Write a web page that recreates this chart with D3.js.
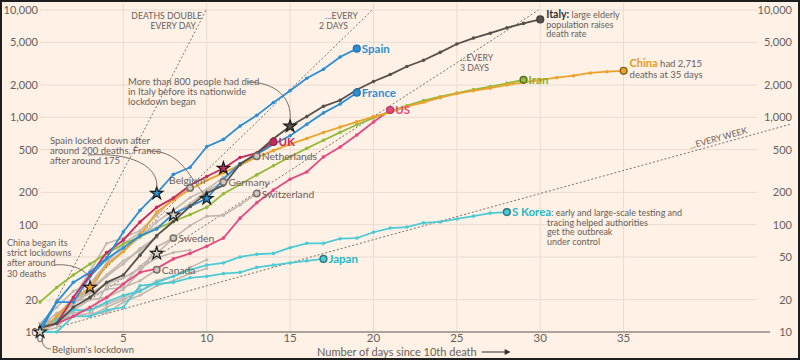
<!DOCTYPE html>
<html><head><meta charset="utf-8">
<script src="https://cdn.jsdelivr.net/npm/d3@7"></script>
<style>
html,body{margin:0;padding:0;background:#fff1e5;}
svg{display:block;font-family:Lato,"Noto Sans",sans-serif;}
</style></head>
<body><svg id="c" width="800" height="360"></svg>
<script>
// ---------- data ----------
const xTicks = [0,5,10,15,20,25,30,35];
const yTicks = [10,20,50,100,200,500,1000,2000,5000,10000];
const yTickLabels = ["10","20","50","100","200","500","1,000","2,000","5,000","10,000"];
const yTicksLeft = [10,20,100,200,500,1000,2000,5000,10000]; // "50" hidden behind the China note

const italy   = [11,12,17,21,29,34,52,79,107,148,197,233,366,463,631,827,1016,1266,1441,1809,2158,2503,2978,3405,4032,4825,5476,6077,6820,7503,8165];
const spain   = [10,19,29,36,49,86,136,196,294,342,533,623,830,1043,1375,1772,2311,2808,3647,4365];
const france  = [11,19,19,33,48,61,79,91,127,148,175,264,372,450,562,674,860,1100,1331,1696];
const uk      = [11,12,21,34,55,72,106,145,177,233,281,335,422,465,590];
const us      = [11,12,14,17,21,28,36,39,48,54,63,75,115,160,210,265,310,428,530,685,906,1170];
const iran    = [19,26,34,43,54,66,77,92,107,124,145,194,237,291,354,429,514,611,724,853,988,1135,1284,1433,1556,1685,1812,1934,2077,2234];
const china   = [10,14,20,26,42,56,80,131,170,213,259,304,361,425,490,562,636,722,811,908,1016,1113,1259,1380,1523,1665,1770,1868,2004,2118,2236,2345,2442,2592,2663,2715];
const skorea  = [11,13,16,16,19,22,24,29,33,38,42,44,50,53,54,61,67,67,74,75,85,93,95,104,106,113,120,128,131];
const japan   = [10,10,14,14,16,17,27,28,29,32,33,35,36,40,42,44,46,48];

const netherlands = [10,12,20,24,43,58,76,106,136,179,213,276,356,434];
const belgium     = [10,14,21,37,67,75,88,122,178,220];
const germany     = [12,17,24,28,44,67,84,94,123,157,206,250];
const switzerland = [11,13,14,14,27,28,41,54,75,98,120,122,153,195];
const sweden      = [10,11,16,20,21,25,36,62,75];
const canada      = [10,12,19,21,25,26,30,38];
const other1 = [10,13,14,14,17,20,24,30,33,40,47];
const other2 = [11,12,14,15,15,19,22,27,30,35,39];
const other3 = [10,14,18,24,33,43,60,76];
const other4 = [11,15,18,25,34,46,57,77];
const other5 = [12,13,15,16,18,21,25];
const other6 = [10,13,19,23,28,32,39,49,55,58];

// lockdown stars: country, day
const starCountries = ["Belgium","China","Switzerland","Spain","Germany","France","UK","Italy"];
const starDays      = [0,3,7,7,8,10,11,15];

// doubling reference lines (days to double)
const refPeriods = [1,2,3,7];

// ---------- styles ----------
const BG = "#fff1e5", GRID = "#e8dbcf", TXT = "#66605c", DARK = "#33302e";
const GRAY = "#bfb7b0", GRAYDOT = "#757069";
const BLUE = "#2b8fd6", ITALY = "#55504c", UKC = "#c72a5c", USC = "#e4497f",
      IRAN = "#94ba3c", CHINA = "#eca22a", CYAN = "#4ccad6";

const grays = [
  {name:"other1", v:other1}, {name:"other2", v:other2}, {name:"other3", v:other3},
  {name:"other4", v:other4}, {name:"other5", v:other5}, {name:"other6", v:other6},
  {name:"Canada", v:canada, label:"Canada"}, {name:"Sweden", v:sweden, label:"Sweden"},
  {name:"Switzerland", v:switzerland, label:"Switzerland"}, {name:"Germany", v:germany, label:"Germany"},
  {name:"Belgium", v:belgium, label:"Belgium", above:true}, {name:"Netherlands", v:netherlands, label:"Netherlands"}
];
const colored = [
  {name:"Japan", v:japan, c:CYAN, label:"Japan", lc:"#25b9c7"},
  {name:"S Korea", v:skorea, c:CYAN, label:"S Korea", lc:"#25b9c7"},
  {name:"US", v:us, c:USC, label:"US", lc:USC},
  {name:"Iran", v:iran, c:IRAN, label:"Iran", lc:"#86ad2f"},
  {name:"China", v:china, c:CHINA},
  {name:"France", v:france, c:BLUE, label:"France", lc:BLUE},
  {name:"UK", v:uk, c:UKC, label:"UK", lc:UKC},
  {name:"Italy", v:italy, c:ITALY},
  {name:"Spain", v:spain, c:BLUE, label:"Spain", lc:BLUE}
];

// ---------- scales ----------
const svg = d3.select("#c");
const x = d3.scaleLinear().domain([0,43]).range([40,757]);
const y = d3.scaleLog().domain([10,10000]).range([332,10]);
const fmt = v => yTickLabels[yTicks.indexOf(v)];

svg.append("rect").attr("width",800).attr("height",360).attr("fill",BG);

// grid
const g = svg.append("g");
g.selectAll("line.h").data(yTicks.slice(1)).join("line")
  .attr("x1",x(0)).attr("x2",x(43)).attr("y1",d=>y(d)).attr("y2",d=>y(d))
  .attr("stroke",GRID).attr("stroke-width",1);
g.selectAll("line.v").data(xTicks.slice(1)).join("line")
  .attr("x1",d=>x(d)).attr("x2",d=>x(d)).attr("y1",y(10)).attr("y2",3)
  .attr("stroke",GRID).attr("stroke-width",1);

// y labels both sides
const yl = svg.append("g").attr("font-size",11).attr("fill",TXT);
yl.selectAll("text.l").data(yTicksLeft).join("text")
  .attr("x",38).attr("y",d=>y(d)+4).attr("text-anchor","end").text(fmt);
yl.selectAll("text.r").data(yTicks).join("text")
  .attr("x",792).attr("y",d=>y(d)+4).attr("text-anchor","end").text(fmt);

// x axis
svg.append("line").attr("x1",x(0)).attr("x2",770).attr("y1",y(10)).attr("y2",y(10))
  .attr("stroke","#8f8780").attr("stroke-width",1.5);
svg.append("g").attr("font-size",11.5).attr("fill",TXT)
  .selectAll("text").data(xTicks).join("text")
  .attr("x",d=>x(d)).attr("y",342).attr("text-anchor","middle").text(d=>d);
const xt = svg.append("text").attr("x",317).attr("y",356).attr("font-size",11).attr("fill",TXT)
  .text("Number of days since 10th death");
const xtEnd = 317 + xt.node().getComputedTextLength();
svg.append("line").attr("x1",xtEnd+5).attr("x2",xtEnd+30).attr("y1",352).attr("y2",352)
  .attr("stroke",DARK).attr("stroke-width",1);
svg.append("path").attr("d",`M${xtEnd+34},352 L${xtEnd+28},349 L${xtEnd+28},355 Z`).attr("fill",DARK);

// reference doubling lines
const refG = svg.append("g");
refPeriods.forEach(p=>{
  const dEnd = Math.min(p*Math.log2(1000), 45);
  const pts = [0, dEnd].map(d=>[x(d), y(10*Math.pow(2,d/p))]);
  refG.append("path").attr("d",d3.line()(pts)).attr("fill","none")
    .attr("stroke","#77706a").attr("stroke-width",1).attr("stroke-dasharray","2,2");
});
const refT = svg.append("g").attr("font-size",8.7).attr("fill",TXT);
refT.append("text").attr("x",202).attr("y",19).attr("text-anchor","end").text("DEATHS DOUBLE");
refT.append("text").attr("x",196).attr("y",29).attr("text-anchor","end").text("EVERY DAY");
refT.append("text").attr("x",358).attr("y",19).attr("text-anchor","end").text("…EVERY");
refT.append("text").attr("x",348).attr("y",29).attr("text-anchor","end").text("2 DAYS");
refT.append("text").attr("x",460).attr("y",61).text("…EVERY");
refT.append("text").attr("x",460).attr("y",71).text("3 DAYS");
{
  const d0 = 39, px = x(d0), py = y(10*Math.pow(2,d0/7));
  const ang = Math.atan2(y(10*Math.pow(2,(d0+1)/7))-py, x(d0+1)-px)*180/Math.PI;
  refT.append("text").attr("transform",`translate(${px},${py-3}) rotate(${ang})`).text("…EVERY WEEK");
}

// lines
const line = d3.line().x((d,i)=>x(i)).y(d=>y(d));
const grayG = svg.append("g");
grays.forEach(s=>{
  grayG.append("path").attr("d",line(s.v)).attr("fill","none").attr("stroke",GRAY).attr("stroke-width",1.6);
  grayG.selectAll(null).data(s.v).join("circle").attr("cx",(d,i)=>x(i)).attr("cy",d=>y(d)).attr("r",1.6).attr("fill",GRAY);
});
const colG = svg.append("g");
colored.forEach(s=>{
  colG.append("path").attr("d",line(s.v)).attr("fill","none").attr("stroke",s.c).attr("stroke-width",1.8);
  colG.selectAll(null).data(s.v.slice(0,-1)).join("circle").attr("cx",(d,i)=>x(i)).attr("cy",d=>y(d)).attr("r",1.8).attr("fill",s.c);
});

// end dots
grays.filter(s=>s.label).forEach(s=>{
  const i = s.v.length-1;
  svg.append("circle").attr("cx",x(i)).attr("cy",y(s.v[i])).attr("r",3.2)
    .attr("fill","#cfc8c1").attr("stroke",GRAYDOT).attr("stroke-width",1.5);
});
colored.forEach(s=>{
  const i = s.v.length-1;
  const hollow = (s.name==="Japan"||s.name==="S Korea"||s.name==="Iran"||s.name==="China");
  svg.append("circle").attr("cx",x(i)).attr("cy",y(s.v[i])).attr("r",3.4)
    .attr("fill",s.c).attr("stroke",d3.color(s.c).darker(hollow?1.5:0.6)).attr("stroke-width",1.4);
});

// stars
const allSeries = {};
grays.concat(colored).forEach(s=>allSeries[s.name]=s);
const starFill = {Belgium:"#d8d1ca", China:CHINA, Switzerland:"#d8d1ca", Spain:BLUE, Germany:"#d8d1ca", France:BLUE, UK:UKC, Italy:ITALY};
starCountries.forEach((c,k)=>{
  const d = starDays[k], v = allSeries[c].v[d];
  svg.append("path").attr("d",d3.symbol(d3.symbolStar).size(48)())
    .attr("transform",`translate(${x(d)},${y(v)})`)
    .attr("fill",starFill[c]).attr("stroke","#1a1a1a").attr("stroke-width",1.2);
});

// gray labels
const gl = svg.append("g").attr("font-size",10.3).attr("fill",TXT);
grays.filter(s=>s.label).forEach(s=>{
  const i = s.v.length-1;
  if (s.above) gl.append("text").attr("x",x(i)-21).attr("y",y(s.v[i])-4).text(s.label);
  else gl.append("text").attr("x",x(i)+5).attr("y",y(s.v[i])+4).text(s.label);
});

// coloured labels
const cl = svg.append("g").attr("font-size",11.5).attr("font-weight","bold");
colored.filter(s=>s.label && s.name!=="S Korea").forEach(s=>{
  const i = s.v.length-1;
  cl.append("text").attr("x",x(i)+5).attr("y",y(s.v[i])+4).attr("fill",s.lc).text(s.label);
});
{
  const i = skorea.length-1;
  const t = svg.append("text").attr("x",x(i)+5).attr("y",y(skorea[i])+4);
  t.append("tspan").attr("font-size",11.5).attr("font-weight","bold").attr("fill","#25b9c7").text("S Korea");
  t.append("tspan").attr("font-size",9).attr("fill",TXT).text(": early and large-scale testing and");
  const a = svg.append("g").attr("font-size",9).attr("fill",TXT);
  ["tracing helped authorities","get the outbreak","under control"].forEach((s,k)=>
    a.append("text").attr("x",547).attr("y",y(skorea[i])+13.5+k*9.6).text(s));
}
{
  const i = italy.length-1;
  const t = svg.append("g").attr("font-size",9).attr("fill",TXT);
  const t1 = t.append("text").attr("x",x(i)+6).attr("y",y(italy[i])-1);
  t1.append("tspan").attr("font-weight","bold").attr("fill",DARK).attr("font-size",10.5).text("Italy:");
  t1.append("tspan").text(" large elderly");
  t.append("text").attr("x",x(i)+6).attr("y",y(italy[i])+8.5).text("population raises");
  t.append("text").attr("x",x(i)+6).attr("y",y(italy[i])+18).text("death rate");
}
{
  const i = china.length-1;
  const t = svg.append("g").attr("font-size",9.5).attr("fill",TXT);
  const t1 = t.append("text").attr("x",x(i)+6).attr("y",y(china[i])-4);
  t1.append("tspan").attr("font-weight","bold").attr("fill","#e59a1c").attr("font-size",11).text("China");
  t1.append("tspan").text(" had 2,715");
  t.append("text").attr("x",x(i)+6).attr("y",y(china[i])+7).text("deaths at 35 days");
}

// annotations
const an = svg.append("g").attr("font-size",9.5).attr("fill",TXT);
["More than 800 people had died","in Italy before its nationwide","lockdown began"].forEach((s,k)=>
  an.append("text").attr("x",128).attr("y",85+k*9.8).text(s));
["Spain locked down after","around 200 deaths, France","after around 175"].forEach((s,k)=>
  an.append("text").attr("x",50).attr("y",144+k*9.8).text(s));
["China began its","strict lockdowns","after around","30 deaths"].forEach((s,k)=>
  an.append("text").attr("x",7).attr("y",246+k*10.2).attr("font-size",9).text(s));
an.append("text").attr("x",52).attr("y",353).text("Belgium's lockdown");

const conn = svg.append("g").attr("fill","none").attr("stroke","#77706a").attr("stroke-width",1);
const sp = (c,d)=>[x(d), y(allSeries[c].v[d])];
{
  const [ix,iy] = sp("Italy",15);
  conn.append("path").attr("d",`M247,82 C276,82 ${ix+2},${iy-28} ${ix},${iy-6}`);
  const [sx,sy] = sp("Spain",7);
  conn.append("path").attr("d",`M88,155 C135,152 ${sx+2},${sy-25} ${sx},${sy-6}`);
  const [fx,fy] = sp("France",10);
  conn.append("path").attr("d",`M147,151 C180,150 ${fx-20},${fy-25} ${fx-3},${fy-5}`);
  const [cx,cy] = sp("China",3);
  conn.append("path").attr("d",`M54,265 C75,263 ${cx},${cy-15} ${cx},${cy-6}`);
  const [bx,by] = sp("Belgium",0);
  conn.append("path").attr("d",`M${bx+2},${by+6} C${bx+2},${by+14} ${bx+6},${by+17} ${bx+11},${by+17}`);
}

// frame
svg.append("rect").attr("x",1).attr("y",1).attr("width",798).attr("height",358)
  .attr("fill","none").attr("stroke","#1e1e1e").attr("stroke-width",2);
</script>
</body></html>
